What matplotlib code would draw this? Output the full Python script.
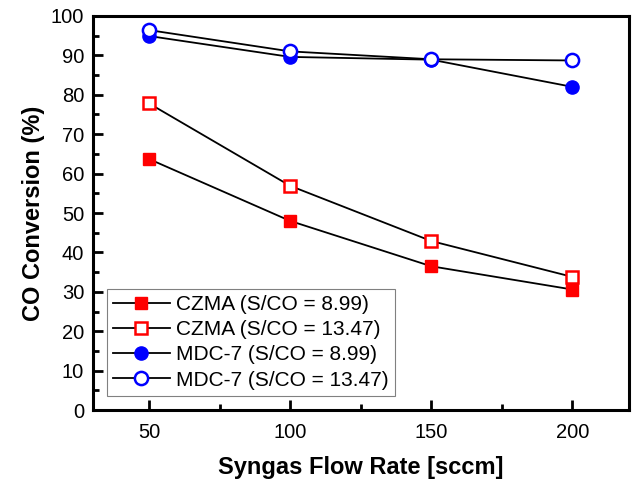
import matplotlib.pyplot as plt
from matplotlib.ticker import MultipleLocator

plt.rcParams['font.family'] = ['Liberation Sans', 'DejaVu Sans']

# Syngas flow rate (sccm)
flow = [50, 100, 150, 200]

# CO conversion (%)
czma_899 = [63.7, 48.0, 36.5, 30.6]
czma_1347 = [77.8, 56.9, 42.9, 33.8]
mdc_899 = [94.9, 89.6, 88.9, 82.0]
mdc_1347 = [96.4, 91.0, 89.0, 88.7]

labels = ['CZMA (S/CO = 8.99)', 'CZMA (S/CO = 13.47)',
          'MDC-7 (S/CO = 8.99)', 'MDC-7 (S/CO = 13.47)']

fig = plt.figure(figsize=(6.34, 4.82), dpi=100)
ax = fig.add_axes([0.146, 0.149, 0.846, 0.818])

ax.plot(flow, czma_899, color='black', lw=1.3, marker='s', ms=9,
        mfc='red', mec='red', label=labels[0])
ax.plot(flow, czma_1347, color='black', lw=1.3, marker='s', ms=8.5,
        mfc='white', mec='red', mew=1.8, label=labels[1])
ax.plot(flow, mdc_899, color='black', lw=1.3, marker='o', ms=9.5,
        mfc='blue', mec='blue', label=labels[2])
ax.plot(flow, mdc_1347, color='black', lw=1.3, marker='o', ms=9.5,
        mfc='white', mec='blue', mew=1.8, label=labels[3])

ax.set_xlim(30, 220)
ax.set_ylim(0, 100)
ax.set_xticks(flow)
ax.xaxis.set_minor_locator(MultipleLocator(25))
ax.yaxis.set_major_locator(MultipleLocator(10))
ax.yaxis.set_minor_locator(MultipleLocator(5))
ax.tick_params(which='both', direction='in', width=2, labelsize=14.5)
ax.tick_params(which='major', length=7)
ax.tick_params(which='minor', length=4)
ax.tick_params(axis='x', pad=9)
ax.tick_params(axis='y', pad=6)
for s in ax.spines.values():
    s.set_linewidth(2.2)

ax.set_xlabel('Syngas Flow Rate [sccm]', fontsize=17, fontweight='bold', labelpad=10)
ax.set_ylabel('CO Conversion (%)', fontsize=17, fontweight='bold', labelpad=4)

leg = ax.legend(loc='lower left', bbox_to_anchor=(0.027, 0.036), borderaxespad=0,
                fontsize=15, fancybox=False, framealpha=1, edgecolor='gray',
                handlelength=2.7, labelspacing=0.3, borderpad=0.3, handletextpad=0.3)
leg.get_frame().set_linewidth(0.8)

fig.savefig('out.png', dpi=100)
